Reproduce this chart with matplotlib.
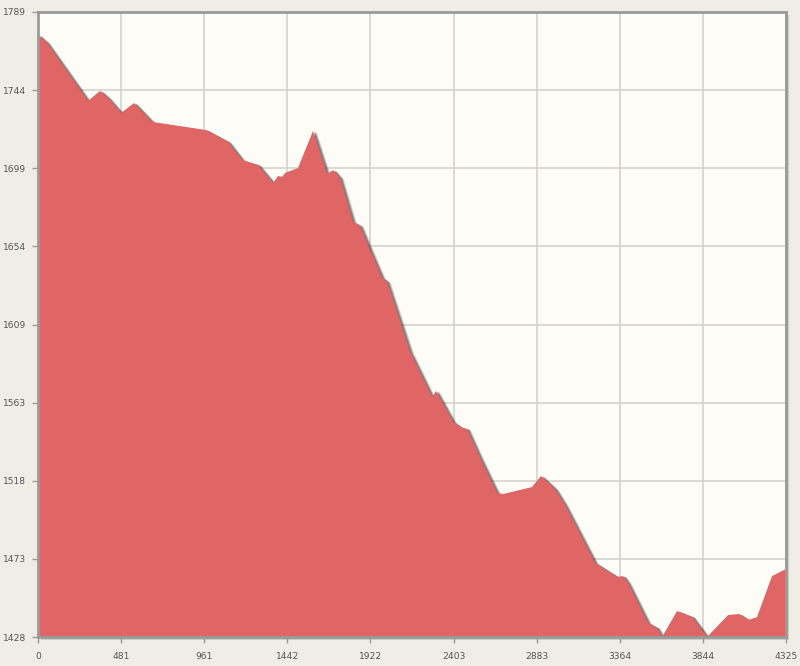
import numpy as np
import matplotlib
matplotlib.use("Agg")
import matplotlib.pyplot as plt
import matplotlib.transforms as mtransforms

# data
x_vals = [0, 52, 289, 358, 405, 480, 555, 659, 971, 1099, 1180, 1272, 1359, 1388,
          1411, 1428, 1503, 1590, 1671, 1706, 1746, 1821, 1862, 1920, 1989, 2018,
          2151, 2278, 2301, 2400, 2440, 2481, 2556, 2654, 2689, 2856, 2908, 2989,
          3047, 3221, 3348, 3383, 3411, 3527, 3579, 3608, 3695, 3782, 3868, 3990,
          4053, 4105, 4157, 4244, 4325]
y_vals = [1775.7, 1771.1, 1737.6, 1743.4, 1739.3, 1730.7, 1736.4, 1725.5, 1720.8,
          1713.9, 1703.5, 1700.6, 1690.2, 1694.3, 1693.7, 1696.0, 1698.9, 1720.3,
          1695.4, 1697.7, 1693.1, 1667.7, 1665.4, 1651.5, 1635.4, 1633.1, 1592.6,
          1566.6, 1570.1, 1552.2, 1549.3, 1548.1, 1531.4, 1511.2, 1510.6, 1514.6,
          1521.0, 1513.5, 1504.2, 1470.7, 1462.7, 1463.2, 1459.2, 1436.1, 1433.2,
          1428.0, 1443.0, 1439.6, 1428.0, 1440.7, 1441.3, 1437.8, 1439.5, 1463.2,
          1467.3]
x_ticks = [0, 481, 961, 1442, 1922, 2403, 2883, 3364, 3844, 4325]
y_ticks = [1428, 1473, 1518, 1563, 1609, 1654, 1699, 1744, 1789]

fig = plt.figure(figsize=(8, 6.66), dpi=100, facecolor="#f0ede7")
ax = fig.add_axes([0.0475, 0.0435, 0.935, 0.9385], facecolor="#fefcf6", zorder=2)

# frame shadow behind the axes, shifted right/down
off = mtransforms.ScaledTranslation(3 / 100, -3 / 100, fig.dpi_scale_trans)
shadow = plt.Rectangle((0, 0), 1, 1, transform=ax.transAxes + off,
                       facecolor="#cfccc6", edgecolor="none", zorder=1)
fig.patches.append(shadow)

ymin = y_ticks[0]
# soft shadow under the area
for d, a in [(4, 0.15), (3, 0.25), (2, 0.35)]:
    off = mtransforms.ScaledTranslation(d / 100, -d / 100 * 0.3, fig.dpi_scale_trans)
    ax.fill_between(x_vals, y_vals, ymin - 50, color="#2a2a2a", alpha=a,
                    linewidth=0, transform=ax.transData + off, zorder=2)
ax.fill_between(x_vals, y_vals, ymin - 50, color="#e06565", linewidth=0, zorder=3)

ax.set_xlim(0, 4325)
ax.set_ylim(1428, 1789)
ax.set_xticks(x_ticks)
ax.set_yticks([1428 + i * (1789 - 1428) / 8 for i in range(9)])
ax.set_xticklabels([str(t) for t in x_ticks])
ax.set_yticklabels([str(t) for t in y_ticks])
ax.grid(True, color="#d4d2cc", linewidth=1.2, zorder=1)
ax.set_axisbelow(True)

for s in ax.spines.values():
    s.set_color("#9a9a9a")
    s.set_linewidth(2)
    s.set_zorder(5)
ax.tick_params(colors="#9a9a9a", labelcolor="#555555", labelsize=6.6,
               length=4.5, width=1)
ax.tick_params(axis="y", pad=4)
ax.tick_params(axis="x", pad=6)

plt.savefig("out.png", facecolor=fig.get_facecolor())
